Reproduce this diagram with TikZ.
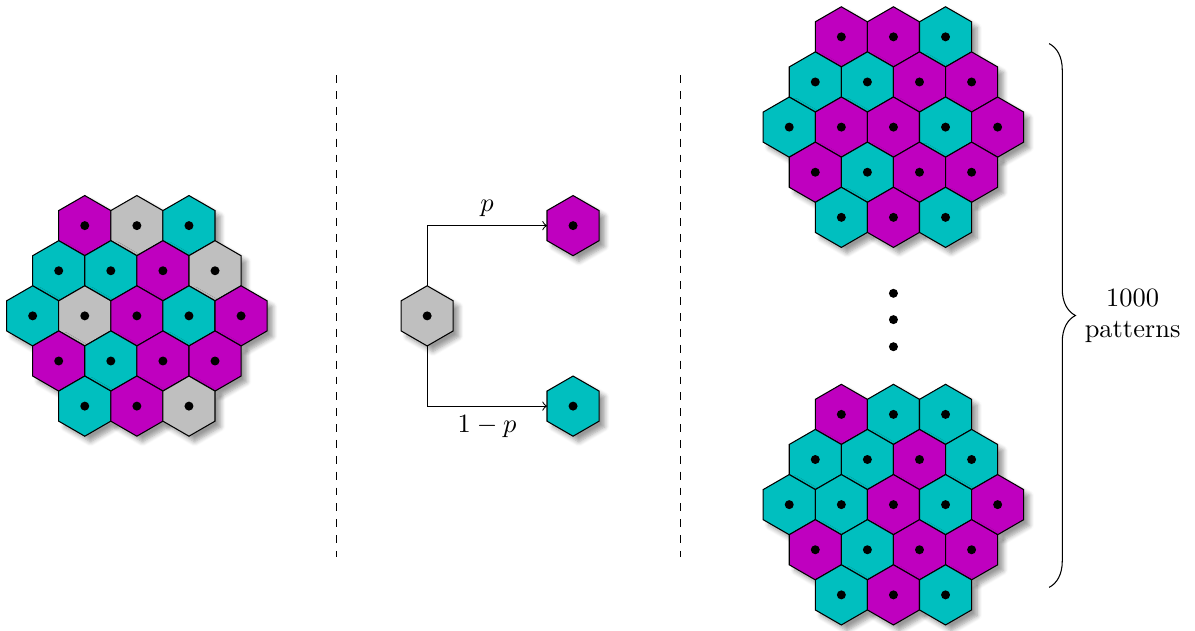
\documentclass[tikz,border=0pt]{standalone}
\usepackage{amsmath, amssymb}
\usetikzlibrary{shapes.geometric, shadows.blur, decorations.pathreplacing}

\definecolor{hexM}{RGB}{191,0,191}
\definecolor{hexC}{RGB}{0,191,191}
\definecolor{hexG}{RGB}{191,191,191}

\tikzset{
  hexcell/.style={regular polygon, regular polygon sides=6, shape border rotate=30,
    minimum size=0.8cm, inner sep=0pt, outer sep=0pt, draw, blur shadow={shadow blur steps=6}}
}

% #1 name, #2 #3 centre, #4 colours row by row (top row first)
\newcommand{\hexcluster}[4]{%
  \foreach \cells [count=\row] in {#4} {
    \pgfmathsetmacro{\xoff}{-0.5*(4-abs(3-\row))}
    \foreach \clr [count=\col] in \cells {
      \node at ({#2+(\xoff+\col-1)*0.6928},{#3+(3-\row)*0.6}) [hexcell, fill=hex\clr] (#1\row\col) {};
      \fill (#1\row\col) circle (1.7pt);
    }
  }
}

\begin{document}
\begin{tikzpicture}
    \useasboundingbox (-5.68,-4.19) rectangle (10.21,4.20);
    % left: lattice with unassigned cells
    \hexcluster{L}{-3.86}{0}{{M,G,C},{C,C,M,G},{C,G,M,C,M},{M,C,M,M},{C,M,G}}
    \draw [dashed] (-1.2,3.2) -- (-1.2,-3.2);
    % middle: random assignment
    \node at (0,0) [hexcell, fill=hexG] (seed) {};
    \fill (seed) circle (1.7pt);
    \node at (1.94,1.2) [hexcell, fill=hexM] (pick1) {};
    \fill (pick1) circle (1.7pt);
    \node at (1.94,-1.2) [hexcell, fill=hexC] (pick2) {};
    \fill (pick2) circle (1.7pt);
    \draw [->] (seed.north) |- (pick1.west) node [pos=0.75, above] {$p$};
    \draw [->] (seed.south) |- (pick2.west) node [pos=0.75, below] {$1-p$};
    \draw [dashed] (3.37,3.2) -- (3.37,-3.2);
    % right: sampled patterns
    \hexcluster{A}{6.2}{2.51}{{M,M,C},{C,C,M,M},{C,M,M,C,M},{M,C,M,M},{C,M,C}}
    \hexcluster{B}{6.2}{-2.51}{{M,C,C},{C,C,M,C},{C,C,M,C,M},{M,C,M,M},{C,M,C}}
    \foreach \y in {0.3,-0.05,-0.41}
        \fill (6.2,\y) circle (1.7pt);
    \coordinate (btop) at (8.27,3.62);
    \coordinate (bbot) at (8.27,-3.61);
    \draw [decorate, decoration={brace, amplitude=0.35cm}] (btop) -- (bbot);
    \node at (8.62,0) [right, align=center] (count) {1000\\patterns};
\end{tikzpicture}
\end{document}
